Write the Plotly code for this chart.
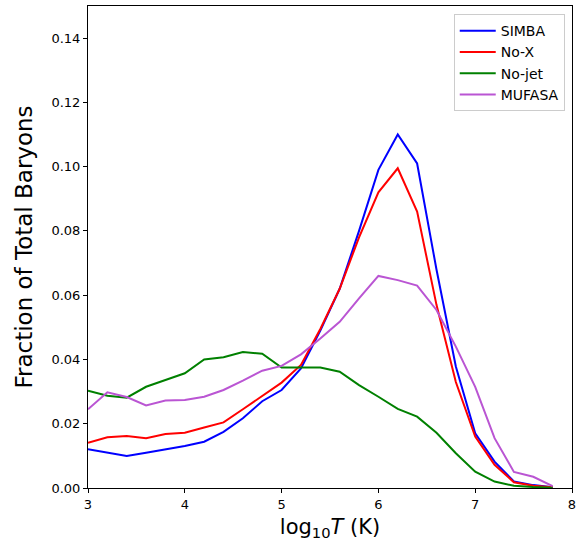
import plotly.graph_objects as go

logT = [3.0, 3.2, 3.4, 3.6, 3.8, 4.0, 4.2, 4.4, 4.6, 4.8, 5.0, 5.2, 5.4,
        5.6, 5.8, 6.0, 6.2, 6.4, 6.6, 6.8, 7.0, 7.2, 7.4, 7.6, 7.8]

simba = [0.0121, 0.0110, 0.0100, 0.0110, 0.0120, 0.0131, 0.0144, 0.0175, 0.0217,
         0.0270, 0.0305, 0.0372, 0.0490, 0.0620, 0.0800, 0.0990, 0.1100, 0.1010,
         0.0680, 0.0378, 0.0170, 0.0082, 0.0020, 0.0009, 0.0002]
nox = [0.0141, 0.0158, 0.0162, 0.0155, 0.0168, 0.0172, 0.0188, 0.0204, 0.0245,
       0.0286, 0.0328, 0.0383, 0.0495, 0.0620, 0.0780, 0.0920, 0.0995, 0.0860,
       0.0570, 0.0330, 0.0160, 0.0072, 0.0018, 0.0007, 0.0002]
nojet = [0.0303, 0.0287, 0.0281, 0.0315, 0.0336, 0.0357, 0.0400, 0.0407, 0.0423,
         0.0418, 0.0375, 0.0375, 0.0375, 0.0362, 0.0320, 0.0284, 0.0246, 0.0222,
         0.0172, 0.0108, 0.0051, 0.0020, 0.0007, 0.0003, 0.0001]
mufasa = [0.0245, 0.0298, 0.0283, 0.0257, 0.0272, 0.0274, 0.0284, 0.0305, 0.0334,
          0.0365, 0.0380, 0.0416, 0.0465, 0.0517, 0.0590, 0.0660, 0.0647, 0.0630,
          0.0554, 0.0440, 0.0315, 0.0155, 0.0050, 0.0035, 0.0006]

names = ["SIMBA", "No-X", "No-jet", "MUFASA"]
colors = ["#0000FF", "#FF0000", "#008000", "#BA55D3"]
series = [simba, nox, nojet, mufasa]

x_ticks = [3, 4, 5, 6, 7, 8]
y_ticks = [0.00, 0.02, 0.04, 0.06, 0.08, 0.10, 0.12, 0.14]

fig = go.Figure()
for name, col, vals in zip(names, colors, series):
    fig.add_trace(go.Scatter(x=logT, y=vals, mode="lines", name=name,
                             line=dict(color=col, width=2)))

axis_common = dict(showgrid=False, zeroline=False, showline=True, linecolor="black",
                   linewidth=1, mirror=True, ticks="outside", ticklen=4,
                   tickwidth=1, tickcolor="black",
                   tickfont=dict(family="DejaVu Sans", size=13, color="black"))

fig.update_layout(
    width=583, height=545,
    margin=dict(l=88, r=11, t=6, b=57),
    plot_bgcolor="white", paper_bgcolor="white",
    font=dict(family="DejaVu Sans", color="black"),
    xaxis=dict(range=[3, 8], tickvals=x_ticks, ticktext=[str(v) for v in x_ticks],
               title=dict(text="log<sub>10</sub><i>T</i> (K)",
                          font=dict(family="DejaVu Sans", size=21), standoff=8),
               **axis_common),
    yaxis=dict(range=[0, 0.15], tickvals=y_ticks,
               ticktext=[f"{v:.2f}" for v in y_ticks],
               title=dict(text="Fraction of Total Baryons",
                          font=dict(family="DejaVu Sans", size=23), standoff=12),
               **axis_common),
    legend=dict(x=0.985, y=0.983, xanchor="right", yanchor="top",
                bordercolor="#CCCCCC", borderwidth=1, bgcolor="white",
                font=dict(family="DejaVu Sans", size=14), tracegroupgap=0,
                itemwidth=36),
    showlegend=True,
)

fig.write_html("out.html")
